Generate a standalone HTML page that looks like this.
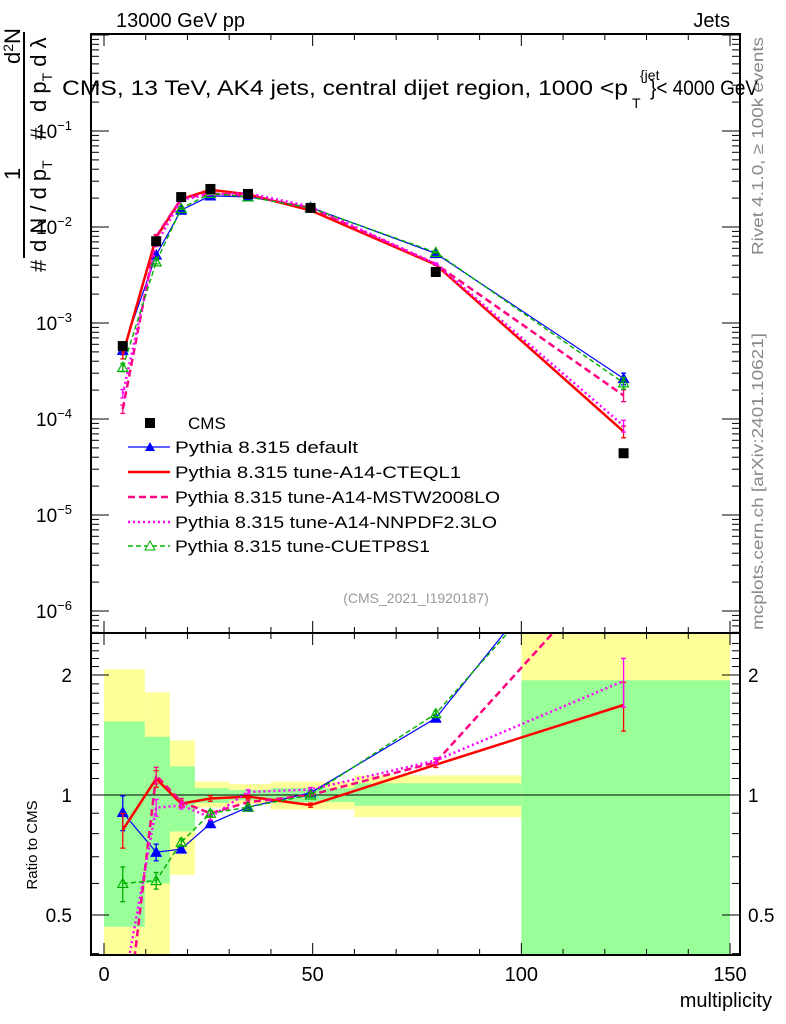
<!DOCTYPE html>
<html><head><meta charset="utf-8"><style>
body{margin:0;background:#fff;}
svg{display:block;font-family:"Liberation Sans","DejaVu Sans",sans-serif;}
</style></head><body>
<svg id="c" width="786" height="1024" viewBox="0 0 786 1024">
<g id="bands"></g>
<g id="series"></g>
<g id="axes"></g>
</svg>
<script>
const categories=[4.5,12.5,18.5,25.5,34.5,49.5,79.5,124.5];
const binLo=[0,9.8,15.8,21.8,30,40,60,100];
const binHi=[9.8,15.8,21.8,30,40,60,100,150];
const cmsVals=[5.75e-4,7.1e-3,0.0205,0.0249,0.0221,0.0158,0.0034,4.4e-5];
const yellowHi=[2.07,1.81,1.37,1.08,1.065,1.08,1.12,3.0];
const yellowLo=[0.3,0.3,0.63,0.93,0.95,0.92,0.88,0.3];
const greenHi=[1.53,1.40,1.18,1.04,1.03,1.04,1.07,1.94];
const greenLo=[0.467,0.60,0.81,0.955,0.97,0.96,0.94,0.3];
const defaultVals=[5.2e-4,5.1e-3,0.0150,0.0211,0.0206,0.0160,0.0053,2.64e-4];
const cteqVals=[4.7e-4,7.8e-3,0.0195,0.0244,0.0219,0.0149,0.00405,7.4e-5];
const mstwVals=[1.27e-4,7.95e-3,0.0197,0.0224,0.0212,0.0158,0.00411,1.76e-4];
const nnpdfVals=[1.84e-4,6.6e-3,0.0193,0.0219,0.0225,0.0163,0.00415,8.5e-5];
const cuetVals=[3.45e-4,4.33e-3,0.0156,0.0224,0.0206,0.0158,0.00544,2.38e-4];
const relErr=[0.25,0.12,0.05,0.04,0.03,0.03,0.04,0.35];
const xTicks=[0,50,100,150];
const yTickExp=[-1,-2,-3,-4,-5,-6];
const ratioTicks=[0.5,1,2];

const NS="http://www.w3.org/2000/svg";
const L=91,R=740,T=34,MB=633,RB=955;
const X=v=>104+v*626/150;
const Y=v=>227-96*Math.log10(v/0.01);
const RY=v=>795-120*Math.log2(v);
function mk(p,tag,a){const e=document.createElementNS(NS,tag);for(const k in a)e.setAttribute(k,a[k]);p.appendChild(e);return e;}
const svg=document.getElementById('c');
const gb=document.getElementById('bands'),gs=document.getElementById('series'),ga=document.getElementById('axes');
const defs=mk(svg,'defs',{});
const cp1=mk(defs,'clipPath',{id:'cm'});mk(cp1,'rect',{x:L,y:T,width:R-L,height:MB-T});
const cp2=mk(defs,'clipPath',{id:'cr'});mk(cp2,'rect',{x:L,y:MB,width:R-L,height:RB-MB});
gb.setAttribute('clip-path','url(#cr)');
for(let i=0;i<categories.length;i++){
 const y=mk(gb,'rect',{x:X(binLo[i]),width:X(binHi[i])-X(binLo[i]),y:RY(yellowHi[i]),height:RY(yellowLo[i])-RY(yellowHi[i]),fill:'#ffff99'});
 
 
 const g=mk(gb,'rect',{x:X(binLo[i]),width:X(binHi[i])-X(binLo[i]),y:RY(greenHi[i]),height:RY(greenLo[i])-RY(greenHi[i]),fill:'#99ff99'});
 
 
}
mk(gb,'line',{x1:L,x2:R,y1:RY(1),y2:RY(1),stroke:'#000','stroke-width':1});
const seriesDefs=[
 {vals:defaultVals,col:'#0000ff',w:1.2,dash:'',mark:'tri',name:'pythia-default'},
 {vals:cteqVals,col:'#ff0000',w:2.5,dash:'',mark:'none',name:'pythia-a14-cteql1'},
 {vals:mstwVals,col:'#ff0080',w:2.5,dash:'7,4',mark:'none',name:'pythia-a14-mstw2008lo'},
 {vals:nnpdfVals,col:'#ff00ff',w:2.5,dash:'2,3',mark:'none',name:'pythia-a14-nnpdf23lo'},
 {vals:cuetVals,col:'#00b000',w:1.4,dash:'5,3',mark:'otri',name:'pythia-cuetp8s1'}
];
function tri(p,x,y,col,open,nm){const t=mk(p,'path',{d:`M${x-5},${y+4}L${x+5},${y+4}L${x},${y-5}Z`,fill:open?'none':col,stroke:col,'stroke-width':1.2});
 
 }
function ebar(p,x,y1,y2,col){mk(p,'line',{x1:x,x2:x,y1:y1,y2:y2,stroke:col,'stroke-width':1.3});
 mk(p,'line',{x1:x-2.5,x2:x+2.5,y1:y1,y2:y1,stroke:col,'stroke-width':1.3});
 mk(p,'line',{x1:x-2.5,x2:x+2.5,y1:y2,y2:y2,stroke:col,'stroke-width':1.3});}
const gm=mk(gs,'g',{'clip-path':'url(#cm)'}),gr=mk(gs,'g',{'clip-path':'url(#cr)'});
seriesDefs.forEach(s=>{
 const pm=categories.map((c,i)=>X(c)+','+Y(s.vals[i])).join(' ');
 const pl=mk(gm,'polyline',{points:pm,fill:'none',stroke:s.col,'stroke-width':s.w,'stroke-dasharray':s.dash});
 
 
 const pr=categories.map((c,i)=>X(c)+','+RY(s.vals[i]/cmsVals[i])).join(' ');
 const rl=mk(gr,'polyline',{points:pr,fill:'none',stroke:s.col,'stroke-width':s.w,'stroke-dasharray':s.dash});
 
 
 categories.forEach((c,i)=>{
  const r=s.vals[i]/cmsVals[i],e=relErr[i]*0.4;
  ebar(gr,X(c),RY(r*(1+e)),RY(r*(1-e)),s.col);
  ebar(gm,X(c),Y(s.vals[i]*(1+e)),Y(s.vals[i]*(1-e)),s.col);
  if(s.mark!=='none'){tri(gm,X(c),Y(s.vals[i]),s.col,s.mark==='otri',s.name+'-point');tri(gr,X(c),RY(r),s.col,s.mark==='otri',s.name+'-ratio-point');}
 });
});
categories.forEach((c,i)=>{const r=mk(gm,'rect',{x:X(c)-5,y:Y(cmsVals[i])-5,width:10,height:10,fill:'#000'});
 
 });
mk(ga,'rect',{x:L,y:T,width:R-L,height:MB-T,fill:'none',stroke:'#000','stroke-width':2});
mk(ga,'rect',{x:L,y:MB,width:R-L,height:RB-MB,fill:'none',stroke:'#000','stroke-width':2});
for(let v=0;v<=150;v+=10){const maj=v%50===0;
 [[T,1],[MB,-1],[MB,1],[RB,-1]].forEach(([y,d])=>mk(ga,'line',{x1:X(v),x2:X(v),y1:y,y2:y+d*(maj?12:6),stroke:'#000'}));}
xTicks.forEach(v=>{const t=mk(ga,'text',{x:X(v),y:981,'font-size':20,'text-anchor':'middle'});t.textContent=v;
 
 });
for(let e=-7;e<=0;e++)for(let m=1;m<10;m++){const y=Y(m*Math.pow(10,e));if(y<T||y>MB)continue;
 const len=m===1?18:8;mk(ga,'line',{x1:L,x2:L+len,y1:y,y2:y,stroke:'#000'});mk(ga,'line',{x1:R,x2:R-len,y1:y,y2:y,stroke:'#000'});}
yTickExp.forEach(e=>{const t=mk(ga,'text',{x:72,y:Y(Math.pow(10,e))+7,'font-size':19,'text-anchor':'end'});
 t.innerHTML='10<tspan dy="-8" font-size="13">'+(e<0?'−':'')+Math.abs(e)+'</tspan>';
 
 });
for(let v=0.4;v<=2.5;v+=0.1){const y=RY(v);if(y<MB||y>RB)continue;const maj=[0.5,1,2].some(q=>Math.abs(q-v)<1e-6);
 mk(ga,'line',{x1:L,x2:L+(maj?18:8),y1:y,y2:y,stroke:'#000'});mk(ga,'line',{x1:R,x2:R-(maj?18:8),y1:y,y2:y,stroke:'#000'});}
ratioTicks.forEach(v=>{[[72,'end'],[748,'start']].forEach(([x,a])=>{const t=mk(ga,'text',{x:x,y:RY(v)+7,'font-size':19,'text-anchor':a});t.textContent=v;
 
 });});
</script>
<svg width="786" height="1024" style="position:absolute;left:0;top:0">
<text x="116" y="27" font-size="20">13000 GeV pp</text>
<text x="730" y="27" font-size="20" text-anchor="end">Jets</text>
<g>
<text x="62" y="95" font-size="21" textLength="566" lengthAdjust="spacingAndGlyphs">CMS, 13 TeV, AK4 jets, central dijet region, 1000 &lt;p</text>
<text x="640" y="80" font-size="14">{jet</text>
<text x="632" y="108" font-size="14">T</text>
<text x="650" y="95" font-size="21" textLength="108" lengthAdjust="spacingAndGlyphs">}&lt; 4000 GeV</text>
</g>
<g transform="translate(20,268) rotate(-90)">
<text x="-4" y="26" font-size="22">#</text>
<text x="88" y="0" font-size="22">1</text>
<text x="204" y="0" font-size="22">d<tspan dy="-7" font-size="14">2</tspan><tspan dy="7">N</tspan></text>
<line x1="10" y1="4" x2="236" y2="4" stroke="#000" stroke-width="2"/>
<text x="16" y="26" font-size="22">d N / d p<tspan dy="6" font-size="14">T</tspan></text>
<text x="128" y="26" font-size="22">#</text>
<text x="156" y="26" font-size="22">d p<tspan dy="6" font-size="14">T</tspan><tspan dy="-6"> d λ</tspan></text>
</g>
<text transform="translate(763,255) rotate(-90)" font-size="16" fill="#888" textLength="218" lengthAdjust="spacingAndGlyphs">Rivet 4.1.0, ≥ 100k events</text>
<text transform="translate(763,630) rotate(-90)" font-size="16" fill="#888" textLength="297" lengthAdjust="spacingAndGlyphs">mcplots.cern.ch [arXiv:2401.10621]</text>
<text x="416" y="603" font-size="14" fill="#999" text-anchor="middle">(CMS_2021_I1920187)</text>
<text transform="translate(37,845) rotate(-90)" font-size="15" text-anchor="middle">Ratio to CMS</text>
<text x="772" y="1007" font-size="20" text-anchor="end">multiplicity</text>
<g font-size="17">
<g><rect x="145" y="418" width="10" height="10" fill="#000"/><text x="188" y="429">CMS</text></g>
<g><line x1="128" x2="170" y1="447" y2="447" stroke="#0000ff" stroke-width="1.2"/><path d="M145,451L155,451L150,442Z" fill="#0000ff"/><text x="175" y="453" textLength="183" lengthAdjust="spacingAndGlyphs">Pythia 8.315 default</text></g>
<g><line x1="128" x2="170" y1="472" y2="472" stroke="#ff0000" stroke-width="2.5"/><text x="175" y="478" textLength="286" lengthAdjust="spacingAndGlyphs">Pythia 8.315 tune-A14-CTEQL1</text></g>
<g><line x1="128" x2="170" y1="497" y2="497" stroke="#ff0080" stroke-width="2.5" stroke-dasharray="7,4"/><text x="175" y="503" textLength="325" lengthAdjust="spacingAndGlyphs">Pythia 8.315 tune-A14-MSTW2008LO</text></g>
<g><line x1="128" x2="170" y1="522" y2="522" stroke="#ff00ff" stroke-width="2.5" stroke-dasharray="2,3"/><text x="175" y="528" textLength="322" lengthAdjust="spacingAndGlyphs">Pythia 8.315 tune-A14-NNPDF2.3LO</text></g>
<g><line x1="128" x2="170" y1="546" y2="546" stroke="#00b000" stroke-width="1.4" stroke-dasharray="5,3"/><path d="M145,550L155,550L150,541Z" fill="#fff" stroke="#00b000"/><text x="175" y="552" textLength="255" lengthAdjust="spacingAndGlyphs">Pythia 8.315 tune-CUETP8S1</text></g>
</g>
</svg>
</body></html>
